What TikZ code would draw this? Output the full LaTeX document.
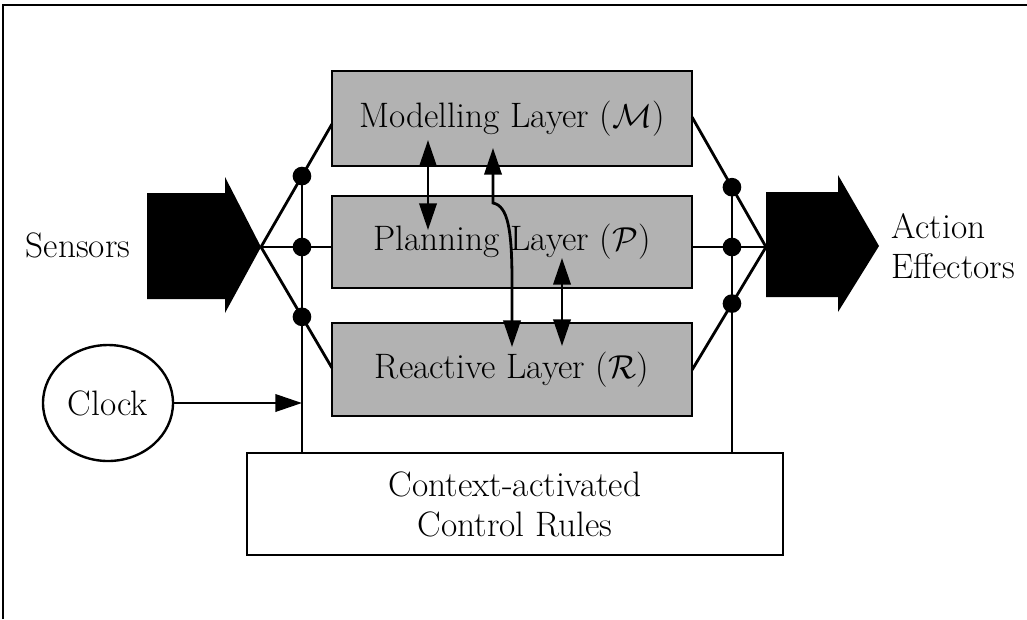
\documentclass[tikz,border=0pt]{standalone}
\usetikzlibrary{arrows.meta,shapes.geometric,calc}
\begin{document}
\begin{tikzpicture}[x=0.75pt,y=-0.75pt,
  every node/.style={font=\fontsize{26.5}{30}\selectfont},
  line/.style={line width=2.1pt},
  layer/.style={draw, line width=2.1pt, fill=black!30, minimum width=270pt, inner sep=0pt},
  plainbox/.style={draw, line width=2.1pt, fill=white, inner sep=0pt, align=center},
  dotn/.style={circle, fill=black, inner sep=0pt, minimum size=14pt},
  tipend/.style={-{Triangle[length=20pt,width=13pt]}},
  dtip/.style={{Triangle[length=20pt,width=13pt]}-{Triangle[length=20pt,width=13pt]}},
]
\useasboundingbox (0,0) rectangle (1027,619);
\draw[line width=1.8pt] (3,619) -- (3,5) -- (1027,5);

% layers
\node[layer, minimum height=71.25pt] (M) at (512,118.5) {Modelling Layer ($\mathcal{M}$)};
\node[layer, minimum height=69pt] (P) at (512,242) {Planning Layer ($\mathcal{P}$)};
\node[layer, minimum height=69.75pt] (R) at (512,369.5) {Reactive Layer ($\mathcal{R}$)};
\node[plainbox, minimum width=402pt, minimum height=76.5pt] (C) at (515,504) {Context-activated\\Control Rules};
\node[draw, ellipse, line width=1.8pt, inner sep=0pt, minimum width=97.5pt, minimum height=87pt] (Clk) at (108,403) {Clock};

% big arrows
\fill (147,193) -- (225,193) -- (225,177) -- (261,247) -- (225,313) -- (225,299) -- (147,299) -- cycle;
\fill (766,192) -- (838,192) -- (838,175) -- (879,246) -- (838,312) -- (838,297) -- (766,297) -- cycle;
\node (S) at (78,245) {Sensors};
\node[anchor=west, align=left] (E) at (887,246) {Action\\Effectors};

% left fan
\coordinate (st) at (261,247);
\coordinate (ml) at (332,124);
\coordinate (rl) at (332,368);
\draw[line] (st) -- (ml);
\draw[line] (st) -- (st -| P.west);
\draw[line] (st) -- (rl);
\node[dotn] (d1) at ($(st)!0.577!(ml)$) {};
\node[dotn] (d2) at (302,247) {};
\node[dotn] (d3) at ($(st)!0.577!(rl)$) {};
\draw[line] (d1.center) -- (d1.center |- C.north);

% right fan
\coordinate (et) at (766,247);
\coordinate (mr) at (692,117);
\coordinate (rr) at (692,370);
\draw[line] (mr) -- (et);
\draw[line] (et -| P.east) -- (et);
\draw[line] (rr) -- (et);
\node[dotn] (e1) at ($(mr)!0.54!(et)$) {};
\node[dotn] (e2) at (732,247) {};
\node[dotn] (e3) at ($(rr)!0.54!(et)$) {};
\draw[line] (e1.center) -- (e1.center |- C.north);

% clock arrow
\draw[line, tipend] (Clk.east) -- (Clk.east -| d1.center);

% inter-layer arrows
\coordinate (a1) at (428,140);
\coordinate (a2) at (428,230);
\draw[line, dtip] (a1) -- (a2);
\coordinate (b1) at (493,148);
\coordinate (b2) at (512,347);
\draw[line, dtip] (b1) -- (493,203) .. controls (508,206) and (512,230) .. (512,282) -- (b2);
\coordinate (c1) at (562,258);
\coordinate (c2) at (562,346);
\draw[line, dtip] (c1) -- (c2);
\end{tikzpicture}
\end{document}
